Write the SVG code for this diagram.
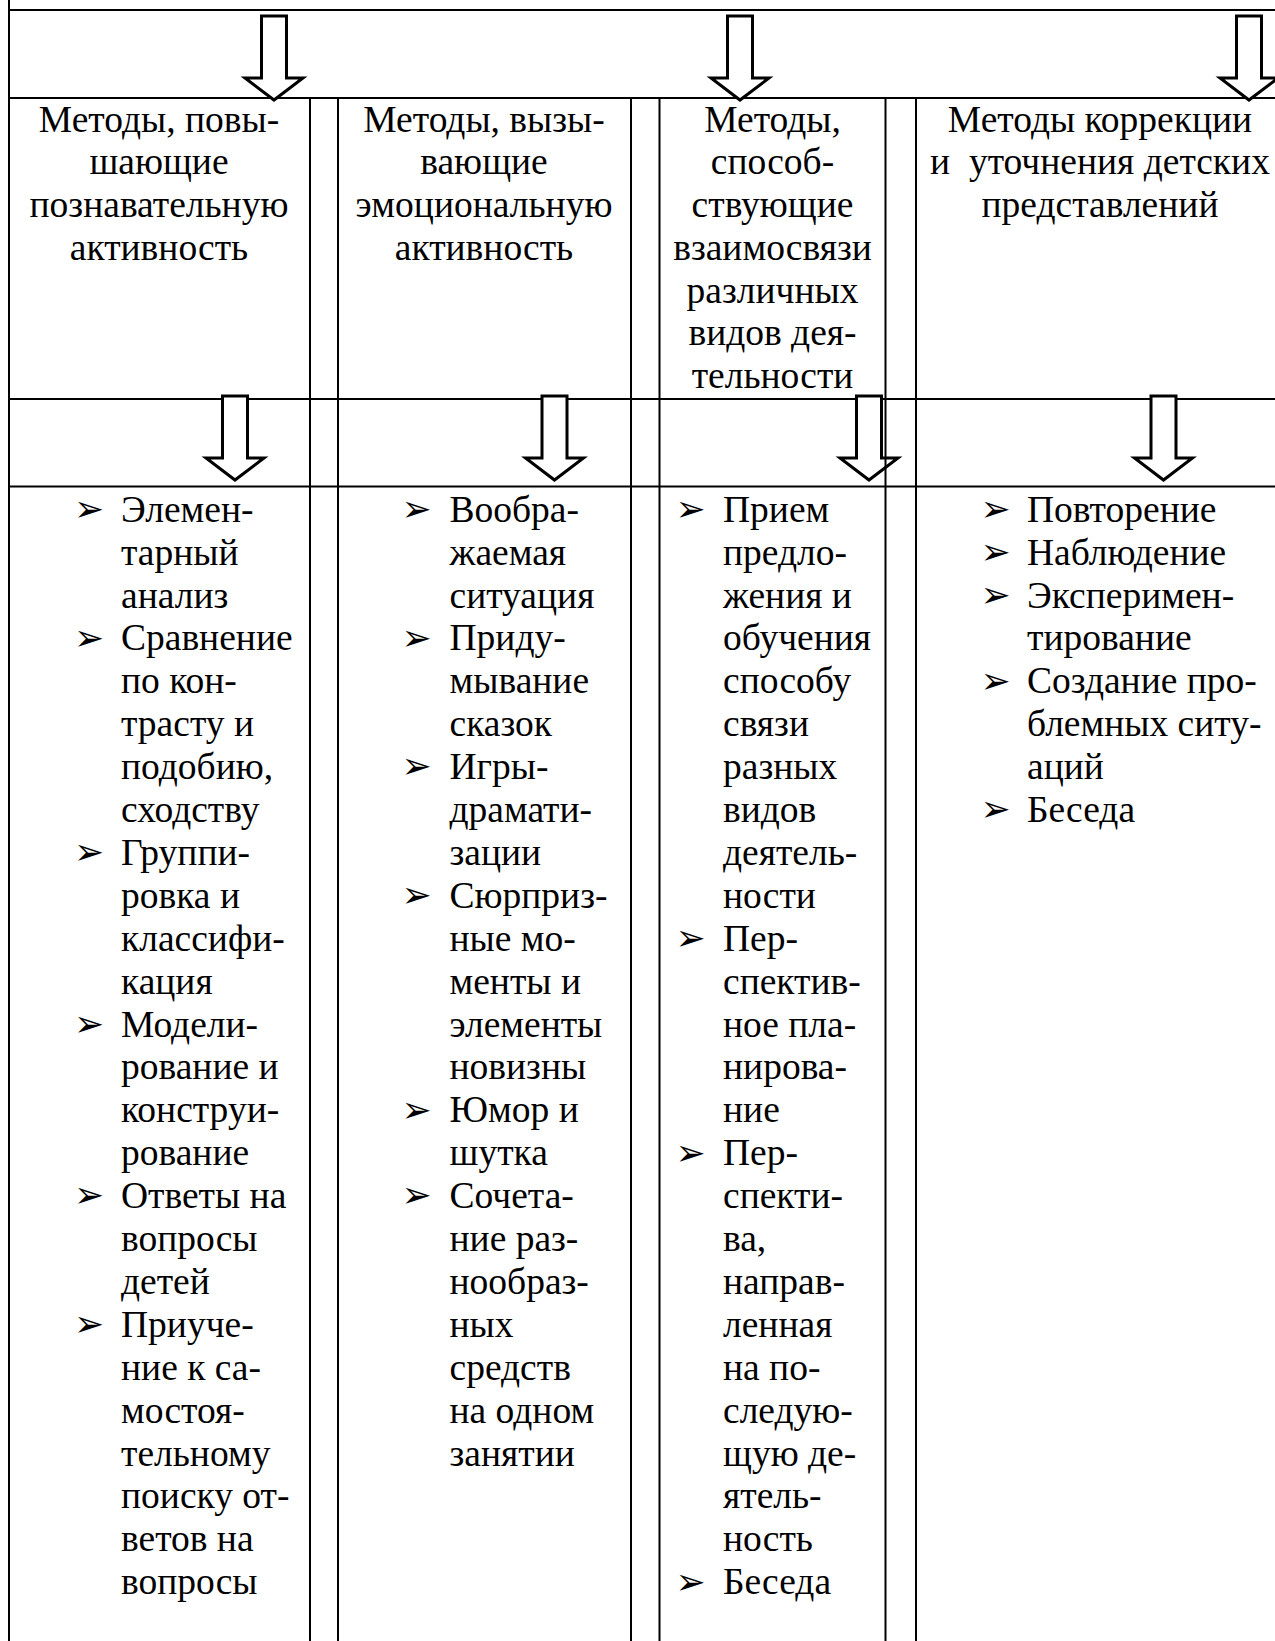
<svg xmlns="http://www.w3.org/2000/svg" width="1275" height="1641" viewBox="0 0 1275 1641">
<style>
.ln{stroke:#000;stroke-width:2;fill:none}
.arr{fill:#fff;stroke:#000;stroke-width:3;stroke-linejoin:miter}
.t{font-family:"Liberation Serif","Times New Roman",serif;font-size:37.5px;fill:#000}
.c{text-anchor:middle}
.b{font-family:"DejaVu Sans",sans-serif;font-size:36px;fill:#000}
</style>
<defs>
<path id="blk" d="M-12.5,0 H12.5 V62 H29 L0,84 L-29,62 H-12.5 Z"/>
</defs>
<rect x="0" y="0" width="1275" height="1641" fill="#fff"/>
<g id="grid-h">
<line class="ln" x1="9" y1="10" x2="1275" y2="10"/>
<line class="ln" x1="9" y1="98" x2="1275" y2="98"/>
<line class="ln" x1="9" y1="399" x2="1275" y2="399"/>
<line class="ln" x1="9" y1="486.5" x2="1275" y2="486.5"/>
</g>
<g id="connectors">
<use href="#blk" class="arr" transform="translate(274,16)"/>
<use href="#blk" class="arr" transform="translate(740,16)"/>
<use href="#blk" class="arr" transform="translate(1249,16)"/>
<use href="#blk" class="arr" transform="translate(235,396)"/>
<use href="#blk" class="arr" transform="translate(554.5,396)"/>
<use href="#blk" class="arr" transform="translate(869,396)"/>
<use href="#blk" class="arr" transform="translate(1163.5,396)"/>
</g>
<g id="grid-v">
<line class="ln" x1="9" y1="0" x2="9" y2="1641"/>
<line class="ln" x1="310" y1="98" x2="310" y2="1641"/>
<line class="ln" x1="338" y1="98" x2="338" y2="1641"/>
<line class="ln" x1="631" y1="98" x2="631" y2="1641"/>
<line class="ln" x1="659.5" y1="98" x2="659.5" y2="1641"/>
<line class="ln" x1="885.5" y1="98" x2="885.5" y2="1641"/>
<line class="ln" x1="916" y1="98" x2="916" y2="1641"/>
</g>
<g id="head1">
<text class="t c" x="159" y="131.7"><tspan x="159">Методы, повы-</tspan><tspan x="159" dy="42.7">шающие</tspan><tspan x="159" dy="42.7">познавательную</tspan><tspan x="159" dy="42.7">активность</tspan></text>
</g>
<g id="head2">
<text class="t c" x="484" y="131.7"><tspan x="484">Методы, вызы-</tspan><tspan x="484" dy="42.7">вающие</tspan><tspan x="484" dy="42.7">эмоциональную</tspan><tspan x="484" dy="42.7">активность</tspan></text>
</g>
<g id="head3">
<text class="t c" x="772.5" y="131.7"><tspan x="772.5">Методы,</tspan><tspan x="772.5" dy="42.7">способ-</tspan><tspan x="772.5" dy="42.7">ствующие</tspan><tspan x="772.5" dy="42.7">взаимосвязи</tspan><tspan x="772.5" dy="42.7">различных</tspan><tspan x="772.5" dy="42.7">видов дея-</tspan><tspan x="772.5" dy="42.7">тельности</tspan></text>
</g>
<g id="head4">
<text class="t c" x="1100" y="131.7" style="white-space:pre"><tspan x="1100">Методы коррекции</tspan><tspan x="1100" dy="42.7">и  уточнения детских</tspan><tspan x="1100" dy="42.7">представлений</tspan></text>
</g>
<g id="list1">
<text class="t" x="121" y="521.7"><tspan x="121">Элемен-</tspan><tspan x="121" dy="42.9">тарный</tspan><tspan x="121" dy="42.9">анализ</tspan><tspan x="121" dy="42.9">Сравнение</tspan><tspan x="121" dy="42.9">по кон-</tspan><tspan x="121" dy="42.9">трасту и</tspan><tspan x="121" dy="42.9">подобию,</tspan><tspan x="121" dy="42.9">сходству</tspan><tspan x="121" dy="42.9">Группи-</tspan><tspan x="121" dy="42.9">ровка и</tspan><tspan x="121" dy="42.9">классифи-</tspan><tspan x="121" dy="42.9">кация</tspan><tspan x="121" dy="42.9">Модели-</tspan><tspan x="121" dy="42.9">рование и</tspan><tspan x="121" dy="42.9">конструи-</tspan><tspan x="121" dy="42.9">рование</tspan><tspan x="121" dy="42.9">Ответы на</tspan><tspan x="121" dy="42.9">вопросы</tspan><tspan x="121" dy="42.9">детей</tspan><tspan x="121" dy="42.9">Приуче-</tspan><tspan x="121" dy="42.9">ние к са-</tspan><tspan x="121" dy="42.9">мостоя-</tspan><tspan x="121" dy="42.9">тельному</tspan><tspan x="121" dy="42.9">поиску от-</tspan><tspan x="121" dy="42.9">ветов на</tspan><tspan x="121" dy="42.9">вопросы</tspan></text>
<text class="b" x="74" y="521">➢</text>
<text class="b" x="74" y="649.7">➢</text>
<text class="b" x="74" y="864.2">➢</text>
<text class="b" x="74" y="1035.8">➢</text>
<text class="b" x="74" y="1207.4">➢</text>
<text class="b" x="74" y="1336.1">➢</text>
</g>
<g id="list2">
<text class="t" x="449.5" y="521.7"><tspan x="449.5">Вообра-</tspan><tspan x="449.5" dy="42.9">жаемая</tspan><tspan x="449.5" dy="42.9">ситуация</tspan><tspan x="449.5" dy="42.9">Приду-</tspan><tspan x="449.5" dy="42.9">мывание</tspan><tspan x="449.5" dy="42.9">сказок</tspan><tspan x="449.5" dy="42.9">Игры-</tspan><tspan x="449.5" dy="42.9">драмати-</tspan><tspan x="449.5" dy="42.9">зации</tspan><tspan x="449.5" dy="42.9">Сюрприз-</tspan><tspan x="449.5" dy="42.9">ные мо-</tspan><tspan x="449.5" dy="42.9">менты и</tspan><tspan x="449.5" dy="42.9">элементы</tspan><tspan x="449.5" dy="42.9">новизны</tspan><tspan x="449.5" dy="42.9">Юмор и</tspan><tspan x="449.5" dy="42.9">шутка</tspan><tspan x="449.5" dy="42.9">Сочета-</tspan><tspan x="449.5" dy="42.9">ние раз-</tspan><tspan x="449.5" dy="42.9">нообраз-</tspan><tspan x="449.5" dy="42.9">ных</tspan><tspan x="449.5" dy="42.9">средств</tspan><tspan x="449.5" dy="42.9">на одном</tspan><tspan x="449.5" dy="42.9">занятии</tspan></text>
<text class="b" x="401.5" y="521">➢</text>
<text class="b" x="401.5" y="649.7">➢</text>
<text class="b" x="401.5" y="778.4">➢</text>
<text class="b" x="401.5" y="907.1">➢</text>
<text class="b" x="401.5" y="1121.6">➢</text>
<text class="b" x="401.5" y="1207.4">➢</text>
</g>
<g id="list3">
<text class="t" x="723" y="521.7"><tspan x="723">Прием</tspan><tspan x="723" dy="42.9">предло-</tspan><tspan x="723" dy="42.9">жения и</tspan><tspan x="723" dy="42.9">обучения</tspan><tspan x="723" dy="42.9">способу</tspan><tspan x="723" dy="42.9">связи</tspan><tspan x="723" dy="42.9">разных</tspan><tspan x="723" dy="42.9">видов</tspan><tspan x="723" dy="42.9">деятель-</tspan><tspan x="723" dy="42.9">ности</tspan><tspan x="723" dy="42.9">Пер-</tspan><tspan x="723" dy="42.9">спектив-</tspan><tspan x="723" dy="42.9">ное пла-</tspan><tspan x="723" dy="42.9">нирова-</tspan><tspan x="723" dy="42.9">ние</tspan><tspan x="723" dy="42.9">Пер-</tspan><tspan x="723" dy="42.9">спекти-</tspan><tspan x="723" dy="42.9">ва,</tspan><tspan x="723" dy="42.9">направ-</tspan><tspan x="723" dy="42.9">ленная</tspan><tspan x="723" dy="42.9">на по-</tspan><tspan x="723" dy="42.9">следую-</tspan><tspan x="723" dy="42.9">щую де-</tspan><tspan x="723" dy="42.9">ятель-</tspan><tspan x="723" dy="42.9">ность</tspan><tspan x="723" dy="42.9">Беседа</tspan></text>
<text class="b" x="675.5" y="521">➢</text>
<text class="b" x="675.5" y="950">➢</text>
<text class="b" x="675.5" y="1164.5">➢</text>
<text class="b" x="675.5" y="1593.5">➢</text>
</g>
<g id="list4">
<text class="t" x="1027" y="521.7"><tspan x="1027">Повторение</tspan><tspan x="1027" dy="42.9">Наблюдение</tspan><tspan x="1027" dy="42.9">Эксперимен-</tspan><tspan x="1027" dy="42.9">тирование</tspan><tspan x="1027" dy="42.9">Создание про-</tspan><tspan x="1027" dy="42.9">блемных ситу-</tspan><tspan x="1027" dy="42.9">аций</tspan><tspan x="1027" dy="42.9">Беседа</tspan></text>
<text class="b" x="980.5" y="521">➢</text>
<text class="b" x="980.5" y="563.9">➢</text>
<text class="b" x="980.5" y="606.8">➢</text>
<text class="b" x="980.5" y="692.6">➢</text>
<text class="b" x="980.5" y="821.3">➢</text>
</g>
</svg>
